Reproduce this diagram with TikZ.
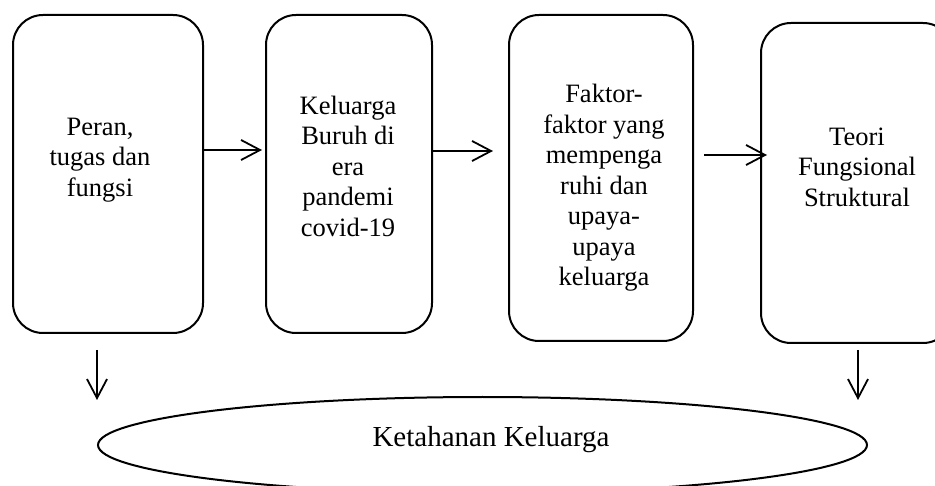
\documentclass[tikz,border=0pt]{standalone}
\usepackage{fontspec}
\setmainfont{Liberation Serif}
\usetikzlibrary{arrows.meta,shapes.geometric}
\begin{document}
\begin{tikzpicture}[x=1pt,y=-1pt,
  stepbox/.style={draw,line width=2pt,rounded corners=30pt,inner sep=0pt},
  boxtext/.style={align=center,inner sep=0pt,font=\fontsize{26.5pt}{30.5pt}\selectfont},
  conn/.style={line width=1.8pt,-{Straight Barb[length=19pt,width=20pt,line width=1.8pt]}}]
\clip (0,0) rectangle (935,486);
\fill[white] (0,0) rectangle (935,486);
% boxes
\node[stepbox,minimum width=190pt,minimum height=318pt] (b1) at (108,174) {};
\node[stepbox,minimum width=166pt,minimum height=318pt] (b2) at (349,174) {};
\node[stepbox,minimum width=184pt,minimum height=326pt] (b3) at (601,178) {};
\node[stepbox,minimum width=192pt,minimum height=320pt] (b4) at (857,183) {};
% texts
\node[boxtext] (t1) at (100,160) {Peran,\\tugas dan\\fungsi};
\node[boxtext] (t2) at (348,166) {Keluarga\\Buruh di\\era\\pandemi\\covid-19};
\node[boxtext] (t3) at (604,188) {Faktor-\\faktor yang\\mempenga\\ruhi dan\\upaya-\\upaya\\keluarga};
\node[boxtext] (t4) at (857,167) {Teori\\Fungsional\\Struktural};
% ellipse
\node[draw,ellipse,line width=2pt,minimum width=769pt,minimum height=96pt,inner sep=0pt] (e) at (482.5,445) {};
\node[inner sep=0pt,font=\fontsize{29pt}{34pt}\selectfont] (et) at (491,440) {Ketahanan Keluarga};
% arrow coordinates
\coordinate (a1e) at (262,150);
\coordinate (a2e) at (493,151);
\coordinate (a3s) at (704,155);
\coordinate (a3e) at (767,155);
\coordinate (d1s) at (97,350);
\coordinate (d1e) at (97,400);
\coordinate (d2s) at (858,350);
\coordinate (d2e) at (858,400);
% arrows
\draw[conn] (b1.east |- a1e) -- (a1e);
\draw[conn] (b2.east |- a2e) -- (a2e);
\draw[conn] (a3s) -- (a3e);
\draw[conn] (d1s) -- (d1e);
\draw[conn] (d2s) -- (d2e);
\end{tikzpicture}
\end{document}
